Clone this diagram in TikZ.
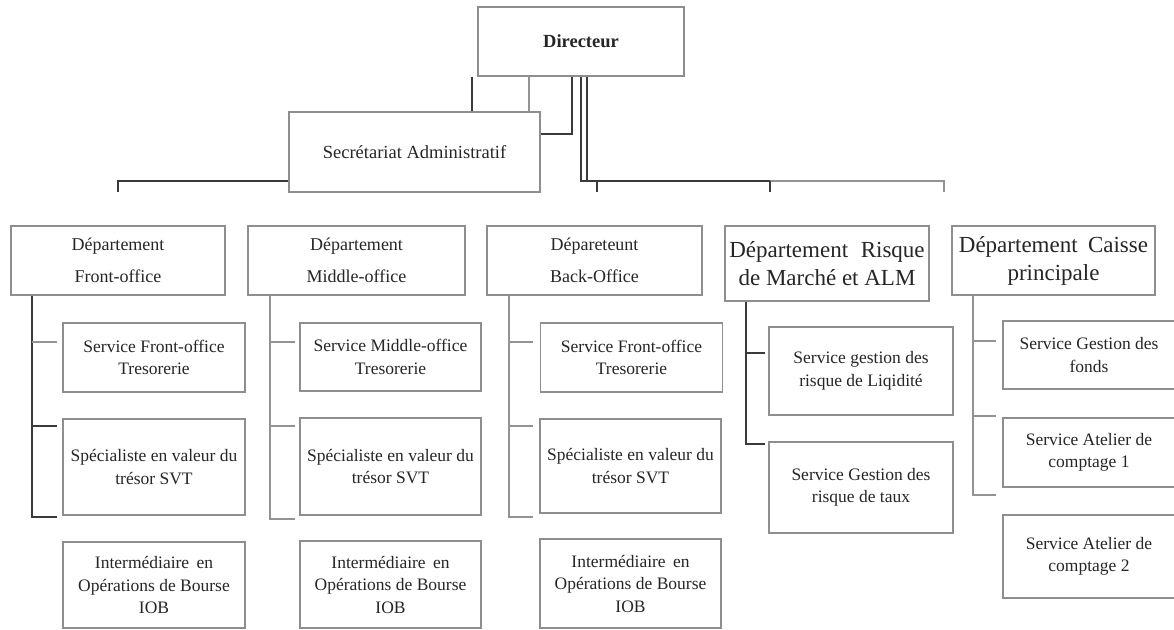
\documentclass[tikz,border=0pt]{standalone}
\usepackage{fontspec}
\setmainfont{Liberation Serif}
\definecolor{boxgray}{HTML}{8E8E8E}
\definecolor{lnDark}{HTML}{3A3A3A}
\definecolor{lnLight}{HTML}{939393}
\definecolor{txt}{HTML}{262626}
\begin{document}
\begin{tikzpicture}[x=1pt,y=-1pt,
  box/.style={draw=boxgray, line width=1.1pt, fill=white, inner sep=0pt, align=center, text=txt},
  svc/.style={box, font=\fontsize{17.5}{22.5}\selectfont},
  dept/.style={box, font=\fontsize{18}{32}\selectfont},
  bigdept/.style={box, font=\fontsize{23}{28}\selectfont},
  link/.style={draw=lnDark, line width=1.5pt},
  linkthin/.style={draw=lnLight, line width=1.2pt},
  spine/.style={draw=lnDark, line width=2pt}
]
\useasboundingbox[fill=white] (0,0) rectangle (1174,629);

% --- top level
\node[box, font=\fontsize{18.5}{22}\selectfont\bfseries, minimum width=206pt, minimum height=69pt] (dir) at (581,41.5) {Directeur};
\node[box, font=\fontsize{18.5}{22}\selectfont, minimum width=251pt, minimum height=80pt] (sec) at (414.5,152) {Secrétariat Administratif};

% --- departments
\node[dept, minimum width=214pt, minimum height=69pt] (d1) at (118,260.5) {Département\\Front-office};
\node[dept, minimum width=217pt, minimum height=69pt] (d2) at (356.5,260.5) {Département\\Middle-office};
\node[dept, minimum width=215pt, minimum height=69pt] (d3) at (594.5,260.5) {Dépareteunt\\Back-Office};
\node[bigdept, minimum width=204pt, minimum height=75pt] (d4) at (827,263.5) {Département\hspace{0.3em} Risque\\de Marché et ALM};
\node[bigdept, minimum width=203pt, minimum height=69pt] (d5) at (1053.5,260.5) {Département\hspace{0.2em} Caisse\\principale};

% --- Front-office services
\node[svc, minimum width=182pt, minimum height=69pt] (s11) at (154,357.5) {Service Front-office\\Tresorerie};
\node[svc, minimum width=182pt, minimum height=96pt] (s12) at (154,467) {Spécialiste en valeur du\\trésor SVT};
\node[svc, minimum width=182pt, minimum height=86pt] (s13) at (154,585) {Intermédiaire\, en\\Opérations de Bourse\\IOB};

% --- Middle-office services
\node[svc, minimum width=181pt, minimum height=68pt] (s21) at (390.5,357) {Service Middle-office\\Tresorerie};
\node[svc, minimum width=181pt, minimum height=97pt] (s22) at (390.5,466.5) {Spécialiste en valeur du\\trésor SVT};
\node[svc, minimum width=181pt, minimum height=87pt] (s23) at (390.5,584.5) {Intermédiaire\, en\\Opérations de Bourse\\IOB};

% --- Back-office services
\node[svc, minimum width=182pt, minimum height=69pt] (s31) at (631.5,357.5) {Service Front-office\\Tresorerie};
\node[svc, minimum width=181pt, minimum height=94pt] (s32) at (630.5,466) {Spécialiste en valeur du\\trésor SVT};
\node[svc, minimum width=181pt, minimum height=89pt] (s33) at (630.5,583.5) {Intermédiaire\, en\\Opérations de Bourse\\IOB};

% --- Market risk services
\node[svc, minimum width=184pt, minimum height=88pt] (s41) at (861,371) {Service gestion des\\risque de Liqidité};
\node[svc, minimum width=184pt, minimum height=91pt] (s42) at (861,487.5) {Service Gestion des\\risque de taux};

% --- Cash services
\node[svc, minimum width=172pt, minimum height=68pt] (s51) at (1089,355) {Service Gestion des\\fonds};
\node[svc, minimum width=172pt, minimum height=69pt] (s52) at (1089,452.5) {Service Atelier de\\comptage 1};
\node[svc, minimum width=172pt, minimum height=83pt] (s53) at (1089,556.5) {Service Atelier de\\comptage 2};

% --- links between director and secretariat / departments
\coordinate (jA) at (472,0);
\coordinate (jB) at (529,0);
\coordinate (jC) at (572,134);
\coordinate (jD) at (581,181);
\coordinate (jE) at (587,181);
\coordinate (busM) at (770,181);
\coordinate (busR) at (944,181);
\coordinate (busL) at (118,181);
\coordinate (tkL) at (118,192);
\coordinate (tk1) at (597,192);
\coordinate (tk2) at (770,192);
\coordinate (tk3) at (944,192);

\draw[link] (dir.south -| jA) -- (sec.north -| jA);
\draw[linkthin] (dir.south -| jB) -- (sec.north -| jB);
\draw[link] (dir.south -| jC) -- (jC) -- (sec.east |- jC);
\draw[link] (dir.south -| jD) -- (jD) -- (busM);
\draw[link] (dir.south -| jE) -- (jE);
\draw[linkthin] (busM) -- (busR) -- (tk3);
\draw[link] (tk1 |- jD) -- (tk1);
\draw[link] (busM) -- (tk2);
\draw[link] (sec.west |- busL) -- (busL) -- (tkL);

% --- Front-office column
\coordinate (c1) at (32,517);
\coordinate (t11) at (57,342);
\coordinate (t12) at (57,426);
\coordinate (t13) at (57,517);
\draw[spine] (d1.south -| c1) -- (c1) -- (t13);
\draw[linkthin] (c1 |- t11) -- (t11);
\draw[link] (c1 |- t12) -- (t12);

% --- Middle-office column
\coordinate (c2) at (270,519);
\coordinate (t21) at (295,342);
\coordinate (t22) at (295,426);
\coordinate (t23) at (295,519);
\draw[linkthin] (d2.south -| c2) -- (c2) -- (t23);
\draw[linkthin] (c2 |- t21) -- (t21);
\draw[linkthin] (c2 |- t22) -- (t22);

% --- Back-office column
\coordinate (c3) at (509,517);
\coordinate (t31) at (533,342);
\coordinate (t32) at (533,426);
\coordinate (t33) at (533,517);
\draw[linkthin] (d3.south -| c3) -- (c3) -- (t33);
\draw[linkthin] (c3 |- t31) -- (t31);
\draw[linkthin] (c3 |- t32) -- (t32);

% --- Market risk column
\coordinate (c4) at (746,444);
\coordinate (t41) at (765,353);
\coordinate (t42) at (765,444);
\draw[link] (d4.south -| c4) -- (c4) -- (t42);
\draw[link] (c4 |- t41) -- (t41);

% --- Cash column
\coordinate (c5) at (973,495);
\coordinate (t51) at (996,341);
\coordinate (t52) at (996,416);
\coordinate (t53) at (996,495);
\draw[linkthin] (d5.south -| c5) -- (c5) -- (t53);
\draw[linkthin] (c5 |- t51) -- (t51);
\draw[linkthin] (c5 |- t52) -- (t52);
\end{tikzpicture}
\end{document}
